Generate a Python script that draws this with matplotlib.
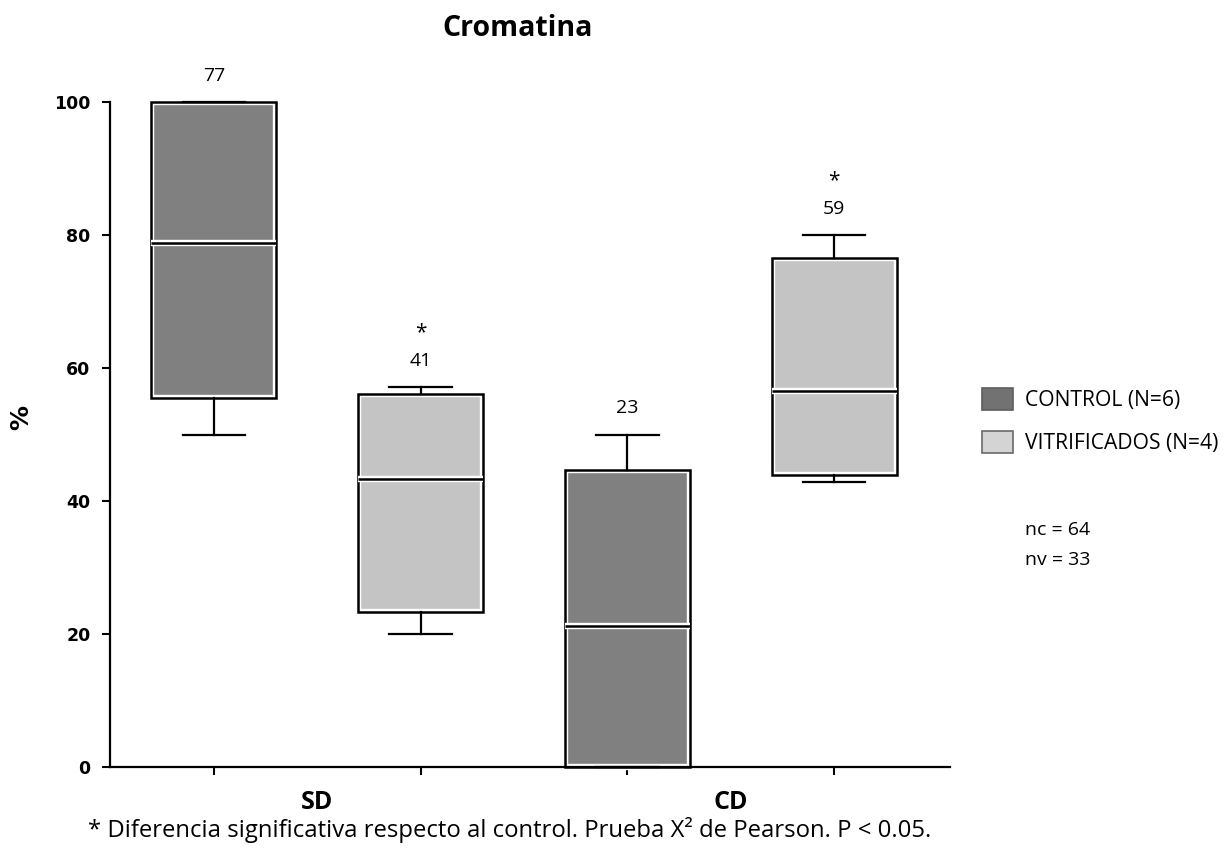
import matplotlib
matplotlib.use('Agg')
import matplotlib.pyplot as plt
from matplotlib.patches import Patch

# ---- data ----
groups = ['SD', 'CD']
series = ['CONTROL (N=6)', 'VITRIFICADOS (N=4)']
positions = [1, 2, 3, 4]
box_series = [0, 1, 0, 1]
whislo = [50, 20, 0, 42.9]
q1 = [55.5, 23.3, 0, 43.9]
med = [78.8, 43.3, 21.2, 56.6]
q3 = [100, 56.1, 44.6, 76.5]
whishi = [100, 57.1, 50, 80]
top_labels = ['77', '41', '23', '59']
significant = [False, True, False, True]
yticks = [0, 20, 40, 60, 80, 100]
group_pos = [1.5, 3.5]

fills = ['#808080', '#c4c4c4']
legend_fc = ['#727272', '#d4d4d4']
legend_ec = ['#5e5e5e', '#6a6a6a']

W, H = 1228, 850
fig = plt.figure(figsize=(W / 100, H / 100), dpi=100)
ax = fig.add_axes([110 / W, 1 - 767 / H, (950 - 110) / W, (767 - 102) / H])

stats = [dict(whislo=whislo[i], q1=q1[i], med=med[i], q3=q3[i], whishi=whishi[i])
         for i in range(len(positions))]
width = 0.605

# first pass: fill + white inner edge + white median band
b1 = ax.bxp(stats, positions=positions, widths=width, patch_artist=True,
            showfliers=False, showcaps=False,
            boxprops=dict(edgecolor='white', linewidth=4.6),
            whiskerprops=dict(linestyle='none'),
            medianprops=dict(color='white', linewidth=4.6, solid_capstyle='butt'))
for patch, s in zip(b1['boxes'], box_series):
    patch.set_facecolor(fills[s])
# second pass: black outline, whiskers, caps, median
b2 = ax.bxp(stats, positions=positions, widths=width, patch_artist=True,
            showfliers=False,
            boxprops=dict(facecolor='none', edgecolor='black', linewidth=1.8),
            whiskerprops=dict(color='black', linewidth=1.6),
            capprops=dict(color='black', linewidth=1.6),
            medianprops=dict(color='black', linewidth=1.8, solid_capstyle='butt'))
for d in (b1, b2):
    for k, arts in d.items():
        for a in arts:
            a.set_clip_on(False)

ax.set_xlim(0.497, 4.561)
ax.set_ylim(0, 100)
ax.set_xticks(positions)
ax.set_xticklabels([])
ax.set_yticks(yticks)
ax.set_yticklabels([str(v) for v in yticks], fontsize=12.5, fontweight='bold',
                   family='DejaVu Sans')
ax.tick_params(axis='both', direction='out', length=6, width=1.5, color='black')
ax.tick_params(axis='y', pad=8)
for sp in ['top', 'right']:
    ax.spines[sp].set_visible(False)
for sp in ['left', 'bottom']:
    ax.spines[sp].set_linewidth(1.6)

# group labels
for g, gp in zip(groups, group_pos):
    ax.text(gp, -0.054, g, transform=ax.get_xaxis_transform(), ha='center', va='center',
            fontsize=18, fontweight='bold', family='Open Sans')

# value labels and significance marks
for p, lab, wh, sig in zip(positions, top_labels, whishi, significant):
    ax.annotate(lab, xy=(p, wh), xytext=(0, 19), textcoords='offset points',
                ha='center', va='center', fontsize=14, family='Open Sans',
                annotation_clip=False)
    if sig:
        ax.annotate('*', xy=(p, wh), xytext=(0, 39), textcoords='offset points',
                    ha='center', va='center', fontsize=15, family='Open Sans',
                    annotation_clip=False)

# title, y label
fig.text(518 / W, 1 - 28 / H, 'Cromatina', ha='center', va='center', fontsize=20.5,
         fontweight='bold', family='Open Sans')
fig.text(21 / W, 1 - 418 / H, '%', rotation=90, ha='center', va='center',
         fontsize=18, fontweight='bold', family='DejaVu Sans')

# legend
handles = [Patch(facecolor=legend_fc[i], edgecolor=legend_ec[i], linewidth=1.2)
           for i in range(len(series))]
leg = fig.legend(handles, series, loc='center left', bbox_to_anchor=(982 / W, 1 - 421 / H),
                 frameon=False, borderpad=0, borderaxespad=0,
                 handlelength=1.48, handleheight=1.2, handletextpad=0.57,
                 labelspacing=0.95, prop={'family': 'Open Sans', 'size': 15.2})

fig.text(1025 / W, 1 - 530 / H, 'nc = 64', ha='left', va='center', fontsize=14,
         family='Open Sans')
fig.text(1025 / W, 1 - 560 / H, 'nv = 33', ha='left', va='center', fontsize=14,
         family='Open Sans')

fig.text(88 / W, 1 - 830 / H,
         '* Diferencia significativa respecto al control. Prueba X² de Pearson. P < 0.05.',
         ha='left', va='center', fontsize=17.2, family='Open Sans')

fig.savefig('out.png', dpi=100, facecolor='white')
